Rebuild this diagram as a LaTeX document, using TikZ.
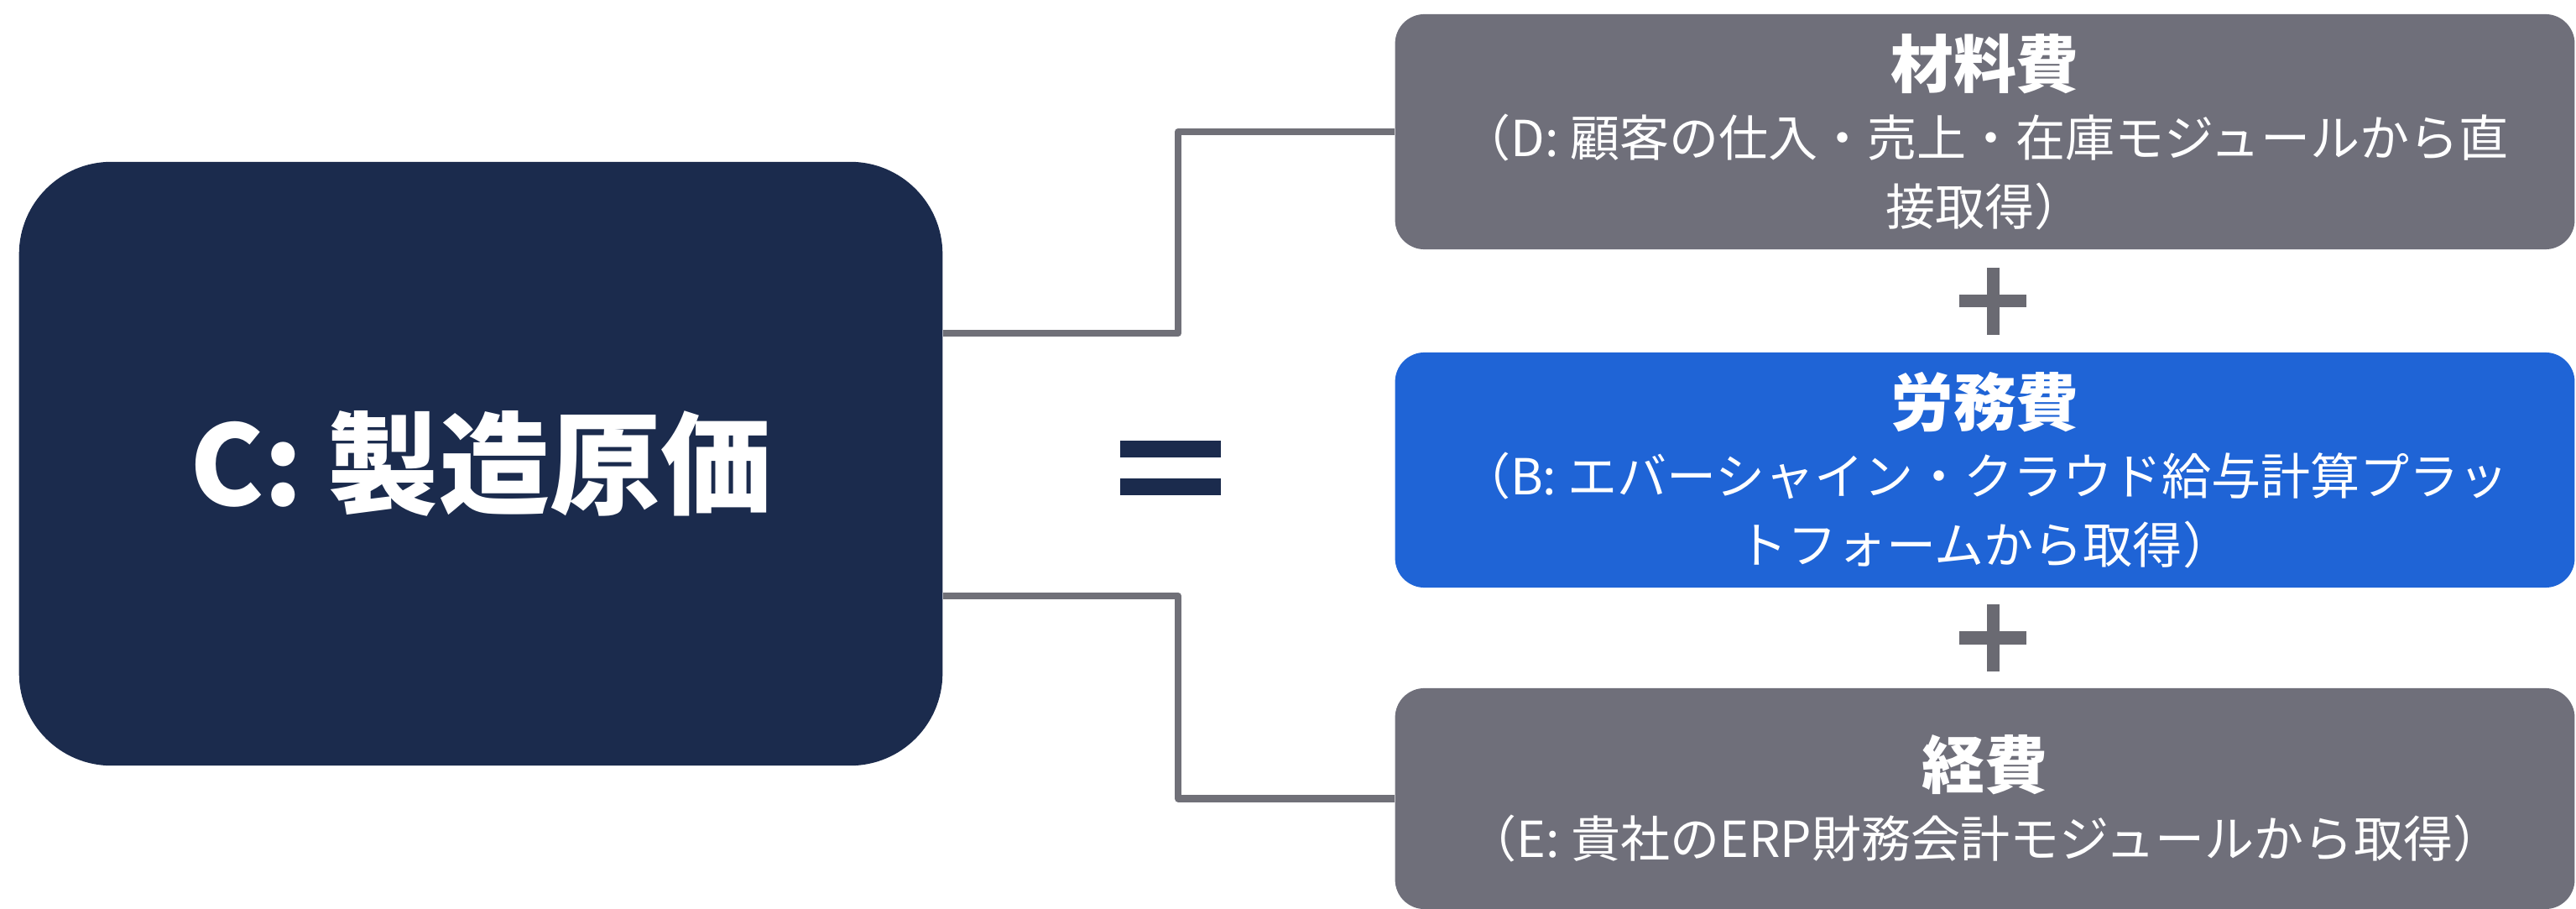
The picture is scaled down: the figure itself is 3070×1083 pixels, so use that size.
\documentclass[tikz,border=0pt]{standalone}
\usepackage{fontspec}
\setmainfont{Noto Sans CJK JP}
\definecolor{navy}{HTML}{1B2B4D}
\definecolor{boxgray}{HTML}{6F6F7A}
\definecolor{boxblue}{HTML}{1F64D6}
\definecolor{linegray}{HTML}{707078}
\definecolor{plusgray}{HTML}{6A6A72}
\newcommand{\ttlfont}{\fontsize{21.3}{25}\selectfont\bfseries}
\newcommand{\subfnt}{\fontsize{16.8}{23.3}\selectfont}
\begin{document}
\begin{tikzpicture}[x=0.01cm,y=-0.01cm,
  cbox/.style={rounded corners=1.1cm, fill=navy, text=white, inner sep=0pt,
    minimum width=11cm, minimum height=7.19cm,
    font=\fontsize{37.6}{45}\selectfont\bfseries},
  costbox/.style={rounded corners=0.35cm, text=white, inner sep=0pt,
    minimum width=14.05cm, minimum height=2.8cm, align=center, font=\subfnt},
  conn/.style={draw=linegray, line width=0.08cm, line join=round},
  plussign/.style={draw=plusgray, line width=0.15cm},
]
\fill[white] (0,0) rectangle (3070,1083);
\useasboundingbox (0,0) rectangle (3070,1083);

\node[cbox] (C) at (573,552.5) {C: 製造原価};

\node[costbox, fill=boxgray] (D) at (2365.5,157)
  {{\ttlfont 材料費}\\（D: 顧客の仕入・売上・在庫モジュールから直\\接取得）};
\node[costbox, fill=boxblue] (B) at (2365.5,560)
  {{\ttlfont 労務費}\\（B: エバーシャイン・クラウド給与計算プラッ\\トフォームから取得）};
\node[costbox, fill=boxgray, minimum height=2.63cm] (E) at (2365.5,951.5)
  {{\ttlfont 経費}\\（E: 貴社のERP財務会計モジュールから取得）};

% equals sign
\fill[navy] (1335,525) rectangle (1455,545);
\fill[navy] (1335,570) rectangle (1455,590);

% plus signs
\draw[plussign] (2335,359) -- (2415,359) (2375,319) -- (2375,399);
\draw[plussign] (2335,760) -- (2415,760) (2375,720) -- (2375,800);

% connectors
\coordinate (j1) at (1404,397);
\coordinate (j2) at (1404,710);
\draw[conn] (j1 -| C.east) -- (j1) |- (D.west);
\draw[conn] (j2 -| C.east) -- (j2) |- (E.west);
\end{tikzpicture}
\end{document}
